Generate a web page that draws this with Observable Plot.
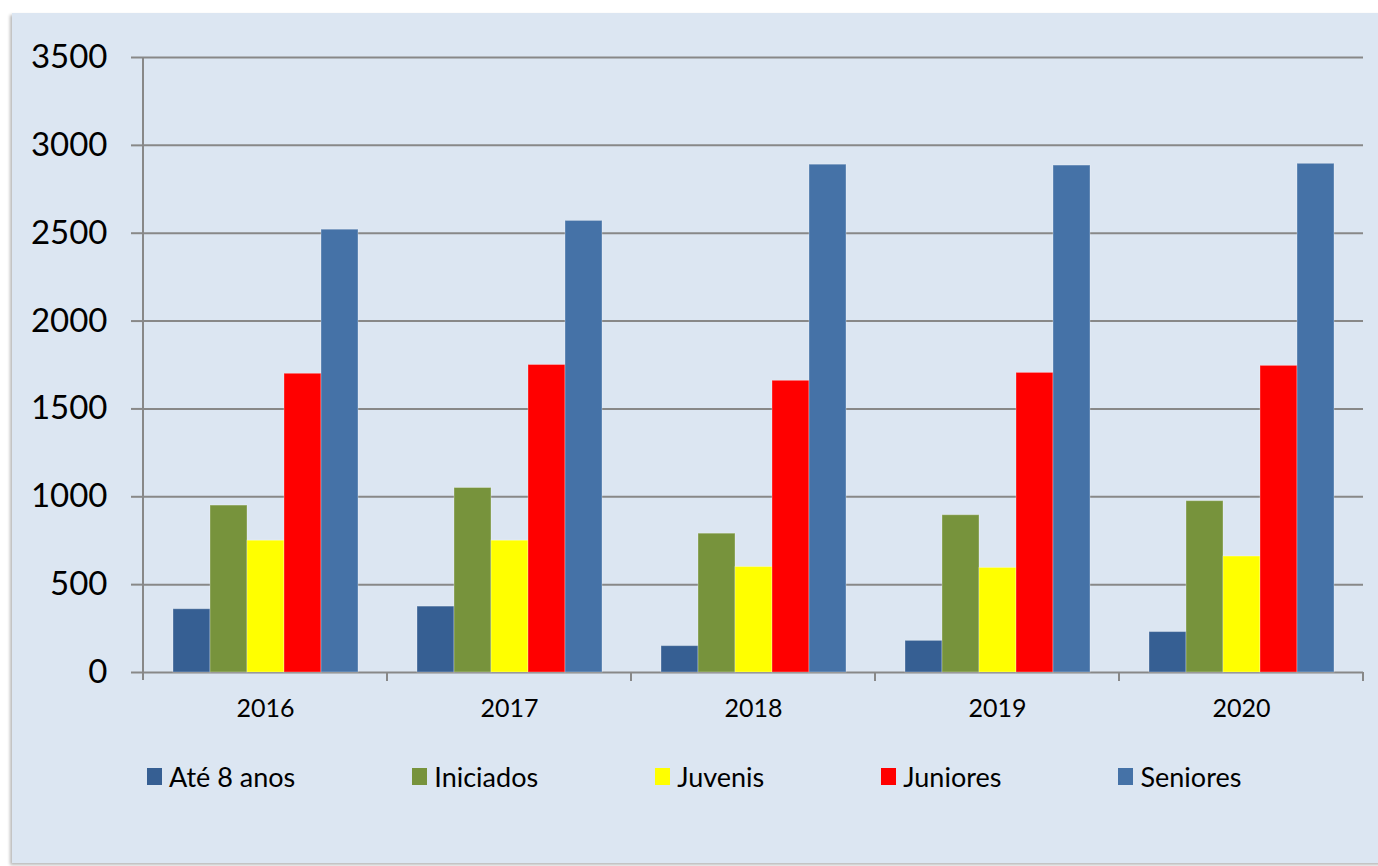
<!DOCTYPE html>
<html>
<head>
<meta charset="utf-8">
<script src="https://cdn.jsdelivr.net/npm/d3@7"></script>
<script src="https://cdn.jsdelivr.net/npm/@observablehq/plot@0.6"></script>
<style>
  html, body { margin: 0; padding: 0; background: #ffffff; }
  body { width: 1378px; height: 866px; position: relative; overflow: hidden; font-family: Lato, "Open Sans", sans-serif; }
  #panel {
    position: absolute; left: 12px; top: 13px; width: 1380px; height: 850px;
    background: #dce6f2;
    box-shadow: -2px 2px 3px rgba(0,0,0,0.28);
  }
  #chart { position: absolute; left: 0; top: 0; }
  #legend {
    position: absolute; left: 135px; top: 747px;
    display: flex; align-items: center; gap: 117px;
    font-size: 27px; color: #000;
  }
  .item { display: flex; align-items: center; gap: 7px; white-space: nowrap; }
  .sw { width: 15px; height: 17px; display: inline-block; }
</style>
</head>
<body>
<div id="panel">
  <div id="chart"></div>
  <div id="legend"></div>
</div>
<script>
const years = ["2016", "2017", "2018", "2019", "2020"];
const series = ["Até 8 anos", "Iniciados", "Juvenis", "Juniores", "Seniores"];
const ate8 = [360, 375, 150, 180, 230];
const iniciados = [950, 1050, 790, 895, 975];
const juvenis = [750, 750, 600, 595, 660];
const juniores = [1700, 1750, 1660, 1705, 1745];
const seniores = [2520, 2570, 2890, 2885, 2895];
const colors = ["#365f93", "#77933c", "#ffff00", "#ff0000", "#4572a7"];
const yTicks = [0, 500, 1000, 1500, 2000, 2500, 3000, 3500];

const valuesBySeries = [ate8, iniciados, juvenis, juniores, seniores];
const data = [];
years.forEach((yr, i) => {
  series.forEach((s, j) => data.push({year: yr, series: s, value: valuesBySeries[j][i]}));
});

const plot = Plot.plot({
  width: 1366,
  height: 720,
  marginLeft: 130,
  marginRight: 14,
  marginTop: 44,
  marginBottom: 61,
  style: {background: "transparent", fontFamily: "Lato, 'Open Sans', sans-serif", color: "#000"},
  fx: {domain: years, padding: 0, label: null, axis: null},
  x: {domain: series, paddingInner: 0, paddingOuter: 0.75, axis: null},
  y: {domain: [0, 3500], axis: null},
  color: {domain: series, range: colors},
  marks: [
    Plot.ruleY(yTicks, {stroke: "#888888", strokeWidth: 2}),
    Plot.barY(data, {fx: "year", x: "series", y: "value", fill: "series", stroke: "#ffffff", strokeOpacity: 0.3, strokeWidth: 1}),
    Plot.axisY({ticks: yTicks, tickFormat: d => String(d), tickSize: 12, tickPadding: 24, fontSize: 33, stroke: "#888888", strokeWidth: 2, fill: "#000", label: null}),
    Plot.axisFx({anchor: "bottom", tickSize: 0, tickPadding: 27, fontSize: 25, fill: "#000", label: null})
  ]
});
document.getElementById("chart").appendChild(plot);

// axis line and category boundary ticks, computed from the plot's scales
const fxs = plot.scale("fx");
const ys = plot.scale("y");
const svg = d3.select(plot);
const y0 = ys.apply(0);
const yTop = ys.apply(3500);
const bounds = years.map(yr => fxs.apply(yr)).concat([fxs.apply(years[years.length - 1]) + fxs.bandwidth]);
svg.append("line")
  .attr("x1", bounds[0]).attr("x2", bounds[0])
  .attr("y1", yTop).attr("y2", y0 + 8)
  .attr("stroke", "#888888").attr("stroke-width", 2);
svg.append("g").selectAll("line").data(bounds.slice(1)).join("line")
  .attr("x1", d => d).attr("x2", d => d)
  .attr("y1", y0).attr("y2", y0 + 9)
  .attr("stroke", "#888888").attr("stroke-width", 2);

// legend
const legend = d3.select("#legend");
series.forEach((s, j) => {
  const it = legend.append("div").attr("class", "item");
  it.append("span").attr("class", "sw").style("background", colors[j]);
  it.append("span").text(s);
});
</script>
</body>
</html>
